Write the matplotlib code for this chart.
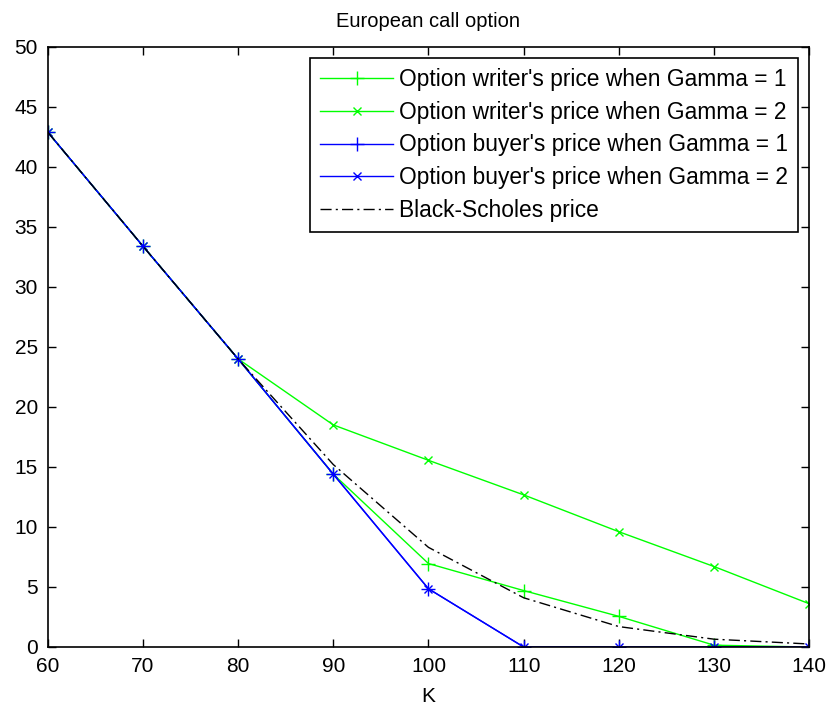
import matplotlib
matplotlib.use("Agg")
import matplotlib.pyplot as plt

plt.rcParams['font.family'] = ['Liberation Sans', 'DejaVu Sans']

# strike grid and prices
K = [60, 70, 80, 90, 100, 110, 120, 130, 140]
writer_g1 = [42.9, 33.4, 24.0, 14.4, 6.95, 4.7, 2.55, 0.15, 0.0]
writer_g2 = [42.9, 33.4, 24.0, 18.5, 15.55, 12.67, 9.6, 6.7, 3.6]
buyer_g1 = [42.9, 33.4, 24.0, 14.4, 4.85, 0.0, 0.0, 0.0, 0.0]
buyer_g2 = [42.9, 33.4, 24.0, 14.4, 4.85, 0.0, 0.0, 0.0, 0.0]
bs_price = [42.9, 33.4, 24.0, 15.2, 8.3, 4.1, 1.7, 0.65, 0.25]

fig = plt.figure(figsize=(8.29, 7.06), dpi=100)
# axes box in pixels: left 47.6, right 809.3, top 46.7, bottom 647
ax = fig.add_axes([47.6 / 829, 1 - 647 / 706, 761.7 / 829, 600.3 / 706])

ax.plot(K, writer_g1, color="#00ff00", lw=1.0, marker="+", ms=10, mew=1.0,
        label="Option writer's price when Gamma = 1")
ax.plot(K, writer_g2, color="#00ff00", lw=1.0, marker="x", ms=6, mew=1.0,
        label="Option writer's price when Gamma = 2")
ax.plot(K, buyer_g1, color="#0000ff", lw=1.0, marker="+", ms=10, mew=1.0,
        label="Option buyer's price when Gamma = 1")
ax.plot(K, buyer_g2, color="#0000ff", lw=1.0, marker="x", ms=6, mew=1.0,
        label="Option buyer's price when Gamma = 2")
ax.plot(K, bs_price, color="black", lw=1.0, linestyle=(0, (8, 3, 1.5, 3)),
        label="Black-Scholes price")

ax.set_xlim(60, 140)
ax.set_ylim(0, 50)
ax.set_xticks(range(60, 141, 10))
ax.set_yticks(range(0, 51, 5))
ax.tick_params(direction="in", top=True, right=True, length=6, width=1.0,
               labelsize=15, pad=7)
for s in ax.spines.values():
    s.set_linewidth(1.2)
ax.set_xlabel("K", fontsize=15, labelpad=8)
ax.set_title("European call option", fontsize=14.5, pad=14)

leg = ax.legend(loc="upper right", fontsize=16.4, frameon=True, fancybox=False,
                framealpha=1, edgecolor="black", borderaxespad=0.5,
                handlelength=3.2, labelspacing=0.42, borderpad=0.45,
                handletextpad=0.25)
leg.get_frame().set_linewidth(1.2)

fig.savefig("out.png", dpi=100)
